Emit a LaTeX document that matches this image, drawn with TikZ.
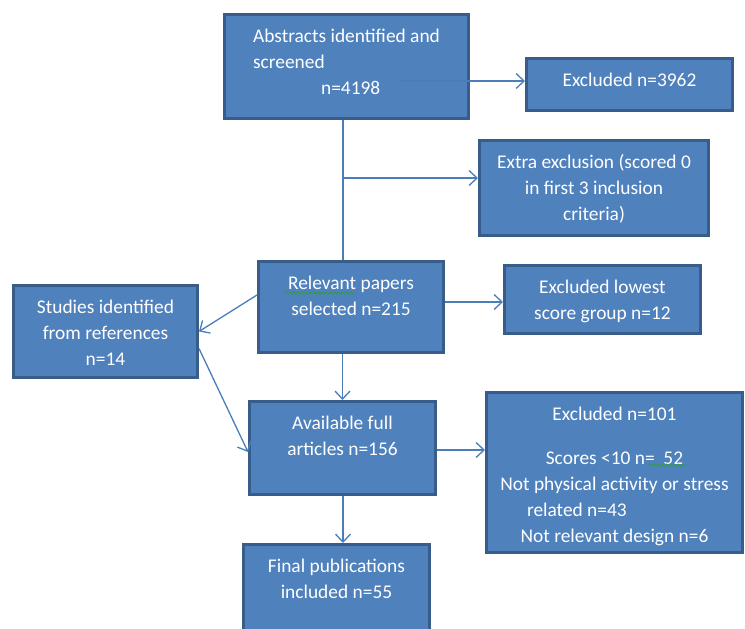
\documentclass[tikz,border=0pt]{standalone}
\usepackage{fontspec}
\setmainfont{Carlito}
\usetikzlibrary{positioning,arrows.meta,decorations.pathmorphing}
\definecolor{boxfill}{HTML}{4F81BD}
\definecolor{boxline}{HTML}{385D8A}
\definecolor{linkblue}{HTML}{4A7EBB}
\definecolor{spellgreen}{HTML}{2E9E3A}

\begin{document}
\begin{tikzpicture}[x=1pt,y=-1pt,
  box/.style={draw=boxline,fill=boxfill,line width=3pt,inner sep=0pt},
  txt/.style={text=white,font=\fontsize{19.4}{26}\selectfont,align=center,inner sep=0pt},
  wire/.style={draw=linkblue,line width=1.3pt},
  link/.style={wire,-{Straight Barb[length=8pt,width=15pt]}},
  squiggle/.style={draw=spellgreen,line width=0.8pt,decorate,decoration={snake,amplitude=1pt,segment length=4pt}}]
\useasboundingbox (0,0) rectangle (745,629);
\clip (0,0) rectangle (745,629);

% boxes
\node[box,minimum width=244pt,minimum height=104pt] (abstracts) at (346.5,66.5) {};
\node[box,minimum width=206pt,minimum height=52pt] (excl1) at (629.5,84.5) {};
\node[box,minimum width=229pt,minimum height=95pt] (extra) at (594,188) {};
\node[box,minimum width=185pt,minimum height=91pt] (relevant) at (351,307) {};
\node[box,minimum width=196pt,minimum height=68pt] (lowest) at (602.5,299.5) {};
\node[box,minimum width=184pt,minimum height=92pt] (studies) at (105.5,331.5) {};
\node[box,minimum width=186pt,minimum height=93pt] (avail) at (342.5,448) {};
\node[box,minimum width=256pt,minimum height=160pt] (excl2) at (614.5,472.5) {};
\node[box,minimum width=186pt,minimum height=97pt] (final) at (336.5,593) {};

% texts
\node[txt,align=left,below=15.5pt of abstracts.north] (abstractsText) {Abstracts identified and\\screened\\\hspace*{68pt}n=4198};
\node[txt,below=15.5pt of excl1.north] (excl1Text) {Excluded n=3962};
\node[txt,below=15.5pt of extra.north] (extraText) {Extra exclusion (scored 0\\in first 3 inclusion\\criteria)};
\node[txt,below=16pt of relevant.north] (relevantText) {Relevant papers\\selected n=215};
\node[txt,below=15.5pt of lowest.north] (lowestText) {Excluded lowest\\score group n=12};
\node[txt,below=15.5pt of studies.north] (studiesText) {Studies identified\\from references\\n=14};
\node[txt,below=16pt of avail.north] (availText) {Available full\\articles n=156};
\node[txt,below=15.5pt of excl2.north] (excl2Text) {Excluded n=101\\[18pt]Scores <10 n=\ \ 52\\Not physical activity or stress\\\makebox[175pt][l]{related n=43}\\Not relevant design n=6};
\node[txt,below=15.5pt of final.north] (finalText) {Final publications\\included n=55};

% spelling marks
\draw[squiggle] (285,293) -- (355,293);
\draw[squiggle] (649,465) -- (686,465);

% connectors
\coordinate (start) at (400,81);
\coordinate (split) at (343,178);
\draw[link] (start) -- (start -| excl1.west);
\draw[wire] (split |- abstracts.south) -- (split |- relevant.north);
\draw[link] (split) -- (split -| extra.west);
\draw[link] ([yshift=5pt]relevant.east) -- ([yshift=5pt]relevant.east -| lowest.west);
\draw[link] ([yshift=12pt]relevant.west) -- (studies.east);
\draw[link] ([yshift=-17pt]studies.east) -- ([yshift=-4pt]avail.west);
\draw[link] (relevant.south -| avail.north) -- (avail.north);
\draw[link] ([yshift=-2pt]avail.east) -- ([yshift=-2pt]avail.east -| excl2.west);
\draw[link] (avail.south -| split) -- (split |- final.north);
\end{tikzpicture}
\end{document}
